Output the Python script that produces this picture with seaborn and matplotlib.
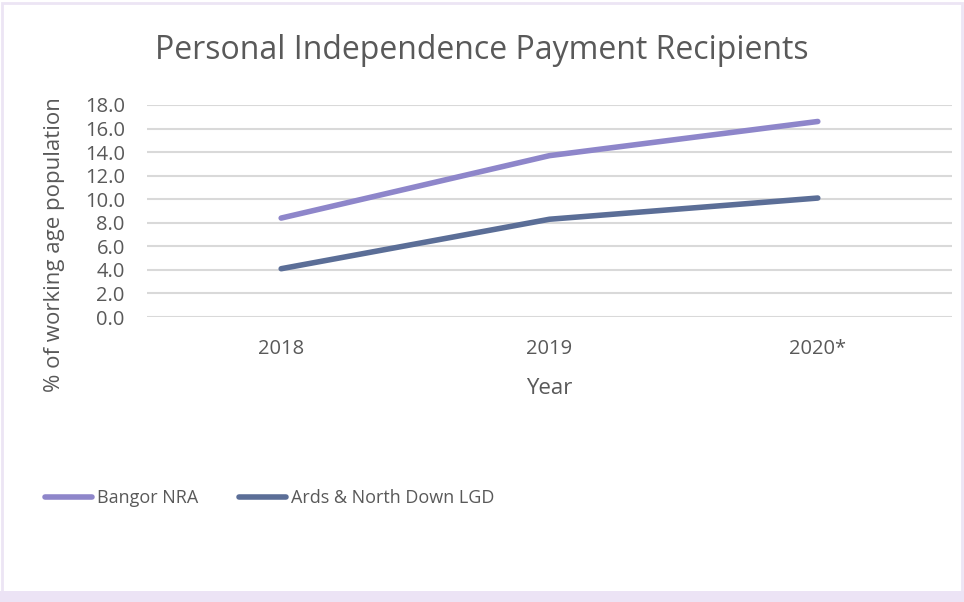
import matplotlib
matplotlib.use("Agg")
from matplotlib import pyplot as plt
from matplotlib.patches import Rectangle
import seaborn as sns
import pandas as pd

# data
years = ["2018", "2019", "2020*"]
bangor = [8.4, 13.7, 16.6]
ards = [4.1, 8.3, 10.1]
series_names = ["Bangor NRA", "Ards & North Down LGD"]
colors = ["#8e86ca", "#5b6e97"]

df = pd.DataFrame({
    "Year": years * 2,
    "value": bangor + ards,
    "series": [series_names[0]] * 3 + [series_names[1]] * 3,
})

sns.set_style("white")
plt.rcParams["font.family"] = ["Open Sans", "DejaVu Sans"]
grey = "#595959"

fig = plt.figure(figsize=(9.64, 6.02), dpi=100)
ax = fig.add_axes([0.1525, 0.4734, 0.835, 0.3522])

sns.lineplot(data=df, x="Year", y="value", hue="series", palette=colors,
             linewidth=4, ax=ax, legend=False, sort=False)
for ln in ax.lines:
    ln.set_solid_capstyle("round")

ax.set_xlim(-0.5, 2.5)
ax.set_ylim(0, 18)
ax.set_yticks(range(0, 19, 2))
ax.set_yticklabels([f"{v:.1f}" for v in range(0, 19, 2)])
ax.grid(axis="y", color="#d9d9d9", linewidth=1.5)
ax.set_axisbelow(True)
for s in ax.spines.values():
    s.set_visible(False)
ax.tick_params(axis="both", length=0, labelsize=14.5, colors=grey)
ax.tick_params(axis="y", pad=16)
ax.tick_params(axis="x", pad=16)

ax.set_xlabel("Year", fontsize=16, color=grey)
ax.set_ylabel("% of working age population", fontsize=16, color=grey)
ax.xaxis.set_label_coords(0.5, -0.335)
ax.xaxis.label.set_va("center")
ax.yaxis.set_label_coords(-0.1155, 0.34)
ax.yaxis.label.set_va("center")

fig.text(0.5, 0.916, "Personal Independence Payment Recipients",
         ha="center", va="center", fontsize=23, color=grey)

handles = [plt.Line2D([], [], color=c, linewidth=4, solid_capstyle="round")
           for c in colors]
fig.legend(handles, series_names, loc="center left", bbox_to_anchor=(0.030, 0.173),
           ncol=2, frameon=False, fontsize=13, labelcolor=grey,
           handlelength=2.6, handletextpad=0.25, columnspacing=2.3)

# light purple border around the chart area
fig.patches.append(Rectangle((0.002, 0.015), 0.996, 0.98, transform=fig.transFigure,
                             fill=False, edgecolor="#ece5f4", linewidth=2))
fig.patches.append(Rectangle((0, 0), 1, 0.018, transform=fig.transFigure,
                             facecolor="#ece3f5", edgecolor="none"))

fig.savefig("out.png", dpi=100)
